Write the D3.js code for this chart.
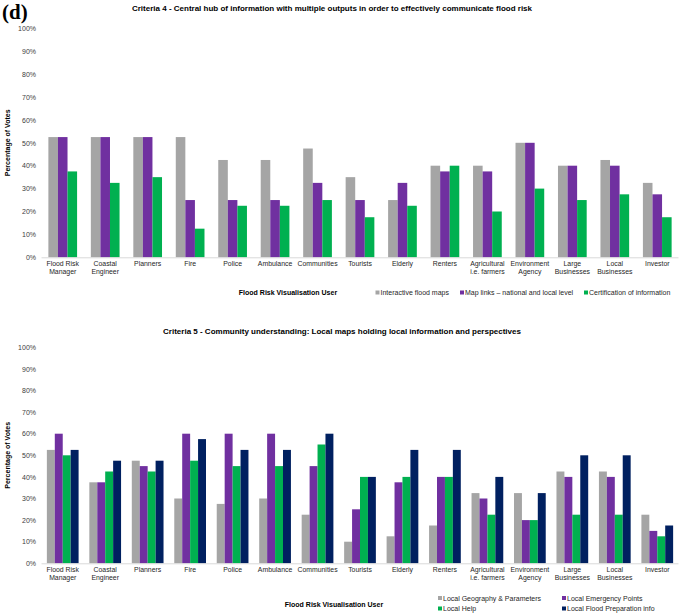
<!DOCTYPE html>
<html><head><meta charset="utf-8">
<script src="https://cdn.jsdelivr.net/npm/d3@7"></script>
<style>
html,body{margin:0;padding:0;background:#fff;}
svg{display:block;font-family:Arial,"Liberation Sans",sans-serif;}
</style></head>
<body>
<svg id="c" width="685" height="614"></svg>
<script>
const categories = ["Flood Risk Manager","Coastal Engineer","Planners","Fire","Police","Ambulance","Communities","Tourists","Elderly","Renters","Agricultural i.e. farmers","Environment Agency","Large Businesses","Local Businesses","Investor"];
const tickLines = [["Flood Risk","Manager"],["Coastal","Engineer"],["Planners"],["Fire"],["Police"],["Ambulance"],["Communities"],["Tourists"],["Elderly"],["Renters"],["Agricultural","i.e. farmers"],["Environment","Agency"],["Large","Businesses"],["Local","Businesses"],["Investor"]];
const yTicks = [0,10,20,30,40,50,60,70,80,90,100];

// Criteria 4
const c4Series = ["Interactive flood maps","Map links \u2013 national and local level","Certification of information"];
const c4Interactive = [52.5,52.5,52.5,52.5,42.5,42.5,47.5,35,25,40,40,50,40,42.5,32.5];
const c4MapLinks    = [52.5,52.5,52.5,25,25,25,32.5,25,32.5,37.5,37.5,50,40,40,27.5];
const c4Certif      = [37.5,32.5,35,12.5,22.5,22.5,25,17.5,22.5,40,20,30,25,27.5,17.5];

// Criteria 5
const c5Series = ["Local Geography & Parameters","Local Emergency Points","Local Help","Local Flood Preparation info"];
const c5Geography = [52.5,37.5,47.5,30,27.5,30,22.5,10,12.5,17.5,32.5,32.5,42.5,42.5,22.5];
const c5Emergency = [60,37.5,45,60,60,60,45,25,37.5,40,30,20,40,40,15];
const c5Help      = [50,42.5,42.5,47.5,45,45,55,40,40,40,22.5,20,22.5,22.5,12.5];
const c5Prep      = [52.5,47.5,47.5,57.5,52.5,52.5,60,40,52.5,52.5,40,32.5,50,50,17.5];

const colors4 = ["#a5a5a5","#7030a0","#00b050"];
const colors5 = ["#a5a5a5","#7030a0","#00b050","#002060"];

const svg = d3.select("#c");

svg.append("text").attr("x",2).attr("y",19)
  .attr("font-family","'Liberation Serif','DejaVu Serif',serif")
  .attr("font-weight","bold").attr("font-size",21).text("(d)");

function drawChart(o){
  const g = svg.append("g");
  const x = d3.scaleBand().domain(categories).range([41.5,678.5])
    .paddingInner(o.padIn).paddingOuter(o.padIn/2);
  const xs = d3.scaleBand().domain(o.series).range([0,x.bandwidth()]);
  const y = d3.scaleLinear().domain([0,100]).range([o.y0,o.y1]);

  // title
  g.append("text").attr("x",o.titleX).attr("y",o.titleY).attr("text-anchor","middle")
    .attr("font-weight","bold").attr("font-size",8).text(o.title);

  // y axis labels
  const ya = g.append("g").attr("transform","translate(36,0)")
    .call(d3.axisLeft(y).tickValues(yTicks).tickSize(0).tickPadding(0).tickFormat(d=>d+"%"));
  ya.select(".domain").remove();
  ya.selectAll("text").attr("font-size",7).attr("fill","#404040").attr("font-family","Arial,'Liberation Sans',sans-serif");

  // y title
  g.append("text").attr("transform",`translate(10,${(o.y0+o.y1)/2}) rotate(-90)`)
    .attr("text-anchor","middle").attr("font-weight","bold").attr("font-size",7).text("Percentage of Votes");

  // bars
  const data = categories.map((c,i)=>({c, vals:o.values.map((arr,k)=>({s:o.series[k], v:arr[i], k}))}));
  const grp = g.selectAll("g.grp").data(data).join("g").attr("class","grp")
    .attr("transform",d=>`translate(${x(d.c)},0)`);
  grp.selectAll("rect").data(d=>d.vals).join("rect")
    .attr("x",d=>xs(d.s)).attr("width",xs.bandwidth())
    .attr("y",d=>y(d.v)).attr("height",d=>y(0)-y(d.v))
    .attr("fill",d=>o.colors[d.k]);

  // baseline
  g.append("line").attr("x1",41.5).attr("x2",678.5).attr("y1",y(0)+0.5).attr("y2",y(0)+0.5)
    .attr("stroke","#d9d9d9").attr("stroke-width",1);

  // x labels
  const xl = g.append("g");
  categories.forEach((c,i)=>{
    const t = xl.append("text").attr("x",x(c)+x.bandwidth()/2).attr("y",o.y0+9)
      .attr("text-anchor","middle").attr("font-size",6.9).attr("fill","#262626");
    tickLines[i].forEach((ln,j)=>{
      t.append("tspan").attr("x",x(c)+x.bandwidth()/2).attr("dy",j===0?0:7.6).text(ln);
    });
  });

  // x title
  g.append("text").attr("x",o.xtX).attr("y",o.xtY).attr("text-anchor","middle")
    .attr("font-weight","bold").attr("font-size",7).text("Flood Risk Visualisation User");

  // legend
  o.legendPos.forEach((p,k)=>{
    g.append("rect").attr("x",p[0]).attr("y",p[1]-4.5).attr("width",4).attr("height",4).attr("fill",o.colors[k]);
    g.append("text").attr("x",p[0]+5).attr("y",p[1]).attr("font-size",7).attr("fill","#262626").text(o.series[k]);
  });
}

drawChart({
  title:"Criteria 4 - Central hub of information with multiple outputs in order to effectively communicate flood risk",
  titleX:332, titleY:11,
  series:c4Series, values:[c4Interactive,c4MapLinks,c4Certif], colors:colors4,
  padIn:0.324, y0:257.3, y1:28.3,
  xtX:288, xtY:295,
  legendPos:[[375.5,295],[460,295],[584,295]]
});

drawChart({
  title:"Criteria 5 - Community understanding: Local maps holding local information and perspectives",
  titleX:342, titleY:334,
  series:c5Series, values:[c5Geography,c5Emergency,c5Help,c5Prep], colors:colors5,
  padIn:0.253, y0:563.3, y1:347.3,
  xtX:334, xtY:607,
  legendPos:[[438,600.5],[562,600.5],[438,611],[562,611]]
});
</script>
</body></html>
